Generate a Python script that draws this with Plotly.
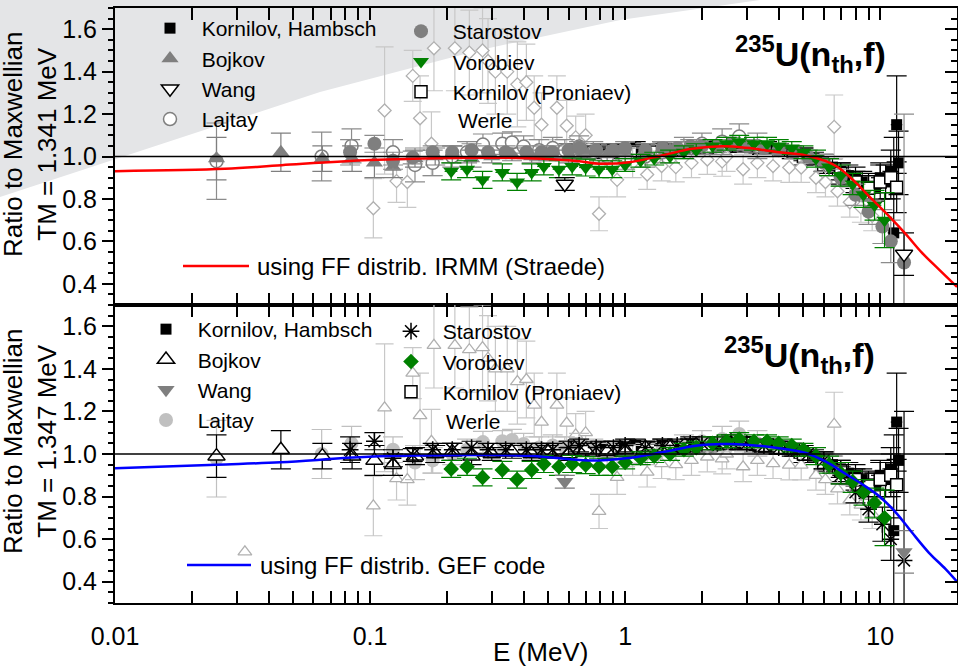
import plotly.graph_objects as go

# ---------------- data ----------------
# Kornilov, Hambsch
kh_E = [0.6, 0.7, 0.8, 0.9, 1.0, 1.1, 1.25, 1.4, 1.6, 1.8, 2.0, 2.25, 2.5, 2.8, 3.2, 3.6, 4.0, 4.5, 5.0, 5.5,
        6.0, 6.5, 7.0, 7.5, 8.0, 8.5, 9.0, 9.5, 10.0, 10.5, 11.0, 11.3, 11.6, 11.8]
kh_R = [1.03, 1.02, 1.03, 1.02, 1.03, 1.04, 1.03, 1.04, 1.03, 1.04, 1.04, 1.05, 1.05, 1.05, 1.04, 1.04, 1.03, 1.02,
        1.01, 0.99, 0.97, 0.95, 0.93, 0.91, 0.90, 0.88, 0.86, 0.85, 0.90, 0.88, 0.93, 0.64, 1.15, 0.97]
kh_dR = [0.03, 0.03, 0.03, 0.03, 0.03, 0.03, 0.03, 0.03, 0.03, 0.03, 0.03, 0.03, 0.03, 0.03, 0.03, 0.03, 0.03, 0.03,
         0.03, 0.03, 0.04, 0.04, 0.04, 0.05, 0.05, 0.05, 0.06, 0.06, 0.07, 0.08, 0.10, 0.45, 0.23, 0.15]
kh_dE = [0.03, 0.03, 0.04, 0.04, 0.05, 0.05, 0.06, 0.07, 0.08, 0.09, 0.10, 0.11, 0.12, 0.14, 0.16, 0.18, 0.20, 0.22,
         0.25, 0.27, 0.30, 0.32, 0.35, 0.40, 0.50, 0.55, 0.60, 0.65, 0.8, 0.8, 0.8, 0.6, 0.6, 0.6]

# Kornilov (Proniaev)
pr_E = [0.55, 0.65, 0.75, 0.9, 1.05, 1.27, 1.5, 1.8, 2.1, 2.5, 3.0, 3.5, 4.0, 5.0, 6.0, 7.0, 8.0, 9.0, 10.0, 11.0, 11.6]
pr_R = [1.02, 1.03, 1.02, 1.03, 1.02, 1.02, 1.03, 1.04, 1.04, 1.05, 1.05, 1.04, 1.03, 1.00, 0.96, 0.92, 0.88, 0.85,
        0.88, 0.90, 0.855]
pr_dR = [0.03, 0.03, 0.03, 0.03, 0.03, 0.03, 0.03, 0.03, 0.03, 0.03, 0.03, 0.03, 0.03, 0.04, 0.04, 0.05, 0.05, 0.06,
         0.08, 0.10, 0.12]

# Bojkov
bo_E = [0.025, 0.0447, 0.065, 0.085, 0.104, 0.123, 0.15, 0.18, 0.21, 0.25, 0.3, 0.36, 0.43, 0.5, 0.6, 0.7, 0.85,
        1.0, 1.2, 1.5, 1.8]
bo_R = [0.99, 1.02, 0.99, 0.99, 0.97, 0.95, 0.99, 1.00, 1.01, 0.99, 1.00, 1.01, 1.00, 1.01, 1.00, 1.02, 1.01, 1.02,
        1.03, 1.03, 1.04]
bo_dR = [0.10, 0.09, 0.06, 0.06, 0.07, 0.05, 0.04, 0.04, 0.04, 0.04, 0.03, 0.03, 0.03, 0.03, 0.03, 0.03, 0.03, 0.03,
         0.03, 0.03, 0.03]

# Wang
wa_E = [0.58, 12.4]
wa_R = [0.87, 0.54]
wa_dR = [0.03, 0.10]

# Lajtay
la_E = [0.025, 0.0646, 0.0846, 0.123, 0.15, 0.176, 0.21, 0.24, 0.277, 0.33, 0.36, 0.40, 0.46, 0.52, 0.58, 0.66,
        0.75, 0.85, 1.0, 1.2, 1.4, 1.7, 2.0, 2.4, 2.8, 3.3]
la_R = [0.978, 1.0, 1.05, 1.02, 0.96, 0.97, 1.0, 1.02, 1.056, 1.06, 1.066, 1.047, 1.03, 1.04, 1.03, 1.047, 1.02,
        1.0, 0.99, 1.0, 1.02, 1.04, 1.06, 1.07, 1.094, 1.05]
la_dR = [0.18, 0.115, 0.08, 0.06, 0.08, 0.06, 0.05, 0.05, 0.05, 0.05, 0.05, 0.05, 0.05, 0.05, 0.05, 0.05, 0.05,
         0.05, 0.05, 0.05, 0.05, 0.05, 0.05, 0.06, 0.06, 0.06]

# Starostov
st_E = [0.0835, 0.104, 0.123, 0.147, 0.176, 0.21, 0.25, 0.29, 0.34, 0.41, 0.47, 0.52, 0.6, 0.66, 0.77, 0.9, 1.0,
        1.2, 1.4, 1.6, 1.8, 2.0, 2.3, 2.6, 3.0, 3.5, 4.0, 4.6, 5.2, 6.0, 7.0, 8.0, 9.0, 10.2, 11.0, 12.4]
st_R = [1.02, 1.06, 0.98, 0.995, 1.02, 1.02, 1.03, 1.02, 1.02, 1.02, 1.02, 1.02, 1.03, 1.04, 1.03, 1.03, 1.04,
        1.03, 1.04, 1.04, 1.05, 1.05, 1.05, 1.06, 1.05, 1.04, 1.03, 1.02, 1.00, 0.97, 0.90, 0.82, 0.74, 0.67,
        0.60, 0.50]
st_dR = [0.06, 0.04, 0.04, 0.03, 0.03, 0.03, 0.03, 0.03, 0.03, 0.03, 0.03, 0.03, 0.03, 0.03, 0.03, 0.03, 0.03,
         0.03, 0.03, 0.03, 0.03, 0.03, 0.03, 0.03, 0.03, 0.03, 0.03, 0.03, 0.03, 0.04, 0.04, 0.05, 0.06, 0.08,
         0.10, 0.70]

# Vorobiev
vo_E = [0.208, 0.24, 0.276, 0.33, 0.377, 0.43, 0.48, 0.55, 0.62, 0.70, 0.79, 0.89, 1.0, 1.15, 1.3, 1.5, 1.7,
        1.9, 2.2, 2.5, 2.8, 3.2, 3.6, 4.0, 4.5, 5.0, 5.6, 6.3, 7.0, 7.8, 8.6, 9.5, 10.4]
vo_R = [0.93, 0.94, 0.89, 0.925, 0.88, 0.925, 0.953, 0.94, 0.953, 0.948, 0.94, 0.94, 0.96, 0.98, 0.99, 1.00,
        1.02, 1.03, 1.05, 1.06, 1.07, 1.06, 1.06, 1.05, 1.04, 1.02, 0.99, 0.95, 0.91, 0.87, 0.82, 0.77, 0.70]
vo_dR = [0.04, 0.04, 0.04, 0.04, 0.04, 0.04, 0.04, 0.04, 0.04, 0.04, 0.04, 0.04, 0.03, 0.03, 0.03, 0.03, 0.03,
         0.03, 0.03, 0.03, 0.03, 0.03, 0.03, 0.03, 0.03, 0.03, 0.04, 0.04, 0.05, 0.05, 0.06, 0.07, 0.13]
vo_dE = [0.012, 0.014, 0.016, 0.02, 0.022, 0.025, 0.028, 0.03, 0.035, 0.04, 0.045, 0.05, 0.06, 0.07, 0.08, 0.09,
         0.1, 0.11, 0.13, 0.15, 0.17, 0.19, 0.21, 0.24, 0.27, 0.3, 0.34, 0.38, 0.45, 0.5, 0.55, 0.6, 0.65]

# Werle
we_E = [0.103, 0.114, 0.127, 0.14, 0.147, 0.157, 0.174, 0.178, 0.215, 0.245, 0.276, 0.29, 0.31, 0.345, 0.378,
        0.41, 0.44, 0.47, 0.54, 0.59, 0.64, 0.70, 0.79, 0.93, 1.07, 1.22, 1.39, 1.58, 1.82, 2.1, 2.4, 2.5, 2.9,
        3.3, 3.8, 4.4, 4.9, 5.6, 6.1, 6.6, 6.8, 7.6, 8.4, 9.3]
we_R = [0.756, 1.217, 0.884, 0.88, 1.38, 1.18, 1.06, 1.51, 1.51, 1.49, 1.50, 1.45, 1.40, 1.40, 1.34, 1.35, 1.23,
        1.15, 1.23, 1.145, 1.09, 1.10, 0.73, 0.89, 0.97, 0.915, 0.955, 0.95, 0.97, 0.986, 0.977, 1.0, 0.94, 0.97,
        0.955, 0.948, 0.948, 0.90, 0.88, 1.14, 0.836, 0.784, 0.76, 0.72]
we_dR = [0.14, 0.30, 0.10, 0.12, 0.12, 0.20, 0.15, 0.20, 0.20, 0.20, 0.20, 0.20, 0.20, 0.20, 0.20, 0.18, 0.15,
         0.15, 0.15, 0.12, 0.10, 0.10, 0.08, 0.08, 0.07, 0.07, 0.07, 0.07, 0.07, 0.07, 0.07, 0.07, 0.07, 0.07,
         0.07, 0.07, 0.07, 0.07, 0.07, 0.15, 0.07, 0.07, 0.07, 0.07]
we_extra_E = [0.0323]
we_extra_R = [0.54]

# Model curves
irmm_E = [0.01, 0.027, 0.045, 0.1, 0.269, 0.421, 0.661, 0.791, 1.037, 1.396, 1.83, 2.40, 2.98, 4.01, 5.11, 6.12,
          6.88, 8.02, 9.26, 10.8, 12.6, 14.5, 16.9, 20.0]
irmm_R = [0.931, 0.942, 0.959, 0.983, 0.994, 0.992, 0.978, 0.966, 0.973, 1.005, 1.036, 1.048, 1.041, 1.02, 1.005,
          0.978, 0.947, 0.877, 0.80, 0.72, 0.634, 0.549, 0.47, 0.385]
gef_E = [0.01, 0.0249, 0.0446, 0.0987, 0.269, 0.421, 0.723, 1.009, 1.396, 1.897, 2.44, 2.98, 4.01, 5.11, 6.12,
         7.33, 8.47, 9.86, 11.5, 13.3, 15.5, 18.05, 20.0]
gef_R = [0.933, 0.95, 0.961, 0.987, 0.995, 0.992, 0.969, 0.98, 1.008, 1.039, 1.047, 1.044, 1.027, 1.005, 0.964,
         0.906, 0.859, 0.804, 0.726, 0.632, 0.537, 0.459, 0.40]

x_tickvals = [0.01, 0.1, 1, 10]
x_ticktext = ["0.01", "0.1", "1", "10"]
x_minor = [m * d for d in (0.01, 0.1, 1, 10) for m in range(2, 10) if m * d <= 20]

# ---------------- figure ----------------
FONT = "Liberation Sans, Arial, sans-serif"
W, H = 958, 669
L, R, T, B = 115, 1, 8, 66
PW, PH = W - L - R, H - T - B
SPLIT = 305  # px of the panel boundary


def px_x(px):
    return (px - L) / PW


def px_y(py):
    return (H - B - py) / PH


ydom_split = px_y(SPLIT)

fig = go.Figure()


def add_series(E, Rv, dR, name, xa, ya, marker, errc, legend, rank, dE=None, showlegend=True, capw=10):
    ex = dict(type="data", array=dE, color=errc, thickness=1.2, width=0) if dE else dict(visible=False)
    fig.add_trace(go.Scatter(
        x=E, y=Rv, mode="markers", name=name, xaxis=xa, yaxis=ya, marker=marker,
        error_y=dict(type="data", array=dR, color=errc, thickness=1.2, width=capw),
        error_x=ex, legend=legend, legendrank=rank, showlegend=showlegend, cliponaxis=True))


NB = "\u00a0\u00a0"
for panel in ("top", "bot"):
    xa, ya = ("x", "y") if panel == "top" else ("x2", "y2")
    l1, l2 = ("legend", "legend2") if panel == "top" else ("legend3", "legend4")
    # Kornilov, Hambsch
    add_series(kh_E, kh_R, kh_dR, NB + "Kornilov, Hambsch", xa, ya,
               dict(symbol="square", size=11, color="black"), "black", l1, 1, dE=kh_dE)
    # Kornilov (Proniaev)
    add_series(pr_E, pr_R, pr_dR, NB + "Kornilov (Proniaev)", xa, ya,
               dict(symbol="square", size=12, color="white", line=dict(color="black", width=1.5)),
               "black", l2, 3)
    # Werle
    if panel == "top":
        wm = dict(symbol="diamond", size=10, color="white", line=dict(color="#b0b0b0", width=1.3))
    else:
        wm = dict(symbol="triangle-up", size=12, color="white", line=dict(color="#b0b0b0", width=1.3))
    add_series(we_E, we_R, we_dR, "Werle", xa, ya, wm, "#c8c8c8", l2, 4, showlegend=False, capw=9)
    if panel == "bot":
        add_series(we_extra_E, we_extra_R, [0], "Werle", xa, ya, wm, "#c8c8c8", l2, 4,
                   showlegend=False, capw=0)
    # Lajtay
    if panel == "top":
        lm = dict(symbol="circle", size=13, color="white", line=dict(color="#7f7f7f", width=1.5))
        lc = "#8c8c8c"
    else:
        lm = dict(symbol="circle", size=14, color="#c0c0c0")
        lc = "#c0c0c0"
    add_series(la_E, la_R, la_dR, NB + "Lajtay", xa, ya, lm, lc, l1, 4)
    # Bojkov
    if panel == "top":
        bm = dict(symbol="triangle-up", size=15, color="#7f7f7f")
        bc = "#7f7f7f"
    else:
        bm = dict(symbol="triangle-up", size=15, color="white", line=dict(color="black", width=1.5))
        bc = "black"
    add_series(bo_E, bo_R, bo_dR, NB + "Bojkov", xa, ya, bm, bc, l1, 2)
    # Starostov
    if panel == "top":
        sm = dict(symbol="circle", size=14, color="#7f7f7f")
        sc = "#8c8c8c"
    else:
        sm = dict(symbol="asterisk-open", size=14, color="black", line=dict(color="black", width=1.5))
        sc = "black"
    add_series(st_E, st_R, st_dR, NB + "Starostov", xa, ya, sm, sc, l2, 1)
    # Vorobiev
    if panel == "top":
        vm = dict(symbol="triangle-down", size=14, color="#008000")
    else:
        vm = dict(symbol="diamond", size=12, color="#008000")
    add_series(vo_E, vo_R, vo_dR, NB + "Vorobiev", xa, ya, vm, "#008000", l2, 2, dE=vo_dE)
    # Wang
    if panel == "top":
        wgm = dict(symbol="triangle-down", size=15, color="white", line=dict(color="black", width=1.5))
        wgc = "black"
    else:
        wgm = dict(symbol="triangle-down", size=15, color="#7f7f7f")
        wgc = "#7f7f7f"
    add_series(wa_E, wa_R, wa_dR, NB + "Wang", xa, ya, wgm, wgc, l1, 3)

# model curves
fig.add_trace(go.Scatter(x=irmm_E, y=irmm_R, mode="lines", line=dict(color="#ff0000", width=2.5, shape="spline"),
                         xaxis="x", yaxis="y", showlegend=False, name="IRMM"))
fig.add_trace(go.Scatter(x=gef_E, y=gef_R, mode="lines", line=dict(color="#0000ff", width=2.5, shape="spline"),
                         xaxis="x2", yaxis="y2", showlegend=False, name="GEF"))
# empty traces so the right-hand tick axes exist
fig.add_trace(go.Scatter(x=[], y=[], xaxis="x", yaxis="y3", showlegend=False))
fig.add_trace(go.Scatter(x=[], y=[], xaxis="x2", yaxis="y4", showlegend=False))

xcommon = dict(type="log", range=[-2, 1.30103], autorange=False, showgrid=False, zeroline=False,
               showline=True, linecolor="black", linewidth=2, mirror="allticks",
               ticks="inside", ticklen=12, tickwidth=1.5, tickcolor="black",
               tickmode="array", tickvals=x_tickvals, ticktext=x_ticktext,
               minor=dict(tickmode="array", tickvals=x_minor, ticks="inside", ticklen=7, tickwidth=1.5,
                          tickcolor="black", showgrid=False),
               tickfont=dict(family=FONT, size=25, color="black"))
ycommon = dict(range=[0.3, 1.7], autorange=False, showgrid=False, zeroline=False, showline=True,
               linecolor="black", linewidth=2, tickmode="linear", tick0=0.4, dtick=0.2, tickformat=".1f",
               ticks="outside", ticklen=11, tickwidth=1.5, tickcolor="black",
               minor=dict(dtick=0.05, tick0=0.3, ticks="outside", ticklen=5, tickwidth=1.5, tickcolor="black",
                          showgrid=False),
               tickfont=dict(family=FONT, size=25, color="black"))
yright = dict(range=[0.3, 1.7], autorange=False, showgrid=False, zeroline=False, showline=True,
              linecolor="black", linewidth=2, side="right", tickmode="linear", tick0=0.4, dtick=0.2,
              ticks="inside", ticklen=12, tickwidth=1.5, tickcolor="black", showticklabels=False,
              minor=dict(dtick=0.05, tick0=0.3, ticks="inside", ticklen=6, tickwidth=1.5, tickcolor="black",
                         showgrid=False))

lg = dict(font=dict(family=FONT, size=21, color="black"), bgcolor="rgba(0,0,0,0)", borderwidth=0,
          xanchor="left", yanchor="top", tracegroupgap=0, itemsizing="trace", traceorder="normal")

fig.update_layout(
    width=W, height=H, margin=dict(l=L, r=R, t=T, b=B, autoexpand=False),
    paper_bgcolor="white", plot_bgcolor="rgba(0,0,0,0)",
    font=dict(family=FONT, color="black"),
    xaxis=dict(**xcommon, anchor="y", showticklabels=False),
    xaxis2=dict(**xcommon, anchor="y2", matches="x", showticklabels=True, ticklabelstandoff=10),
    yaxis=dict(**ycommon, domain=[ydom_split, 1], anchor="x"),
    yaxis2=dict(**ycommon, domain=[0, ydom_split], anchor="x2"),
    yaxis3=dict(**yright, overlaying="y", anchor="x"),
    yaxis4=dict(**yright, overlaying="y2", anchor="x2"),
    legend=dict(**lg, x=px_x(150), y=px_y(8)),
    legend2=dict(**lg, x=px_x(401), y=px_y(11)),
    legend3=dict(**lg, x=px_x(146), y=px_y(309)),
    legend4=dict(**lg, x=px_x(391), y=px_y(311)),
)

shapes = [
    # grey wedge in the upper-left corner
    dict(type="path", xref="paper", yref="paper", layer="below", line=dict(width=0), fillcolor="#e4e5e7",
         path="M {:.4f},{:.4f} L {:.4f},{:.4f} L {:.4f},{:.4f} L {:.4f},{:.4f} L {:.4f},{:.4f} L {:.4f},{:.4f} Z".format(
             px_x(0), px_y(0), px_x(760), px_y(0), px_x(620), px_y(20), px_x(480), px_y(50),
             px_x(320), px_y(92), px_x(0), px_y(197))),
    dict(type="line", xref="x domain", yref="y", x0=0, x1=1, y0=1, y1=1, line=dict(color="black", width=1.5)),
    dict(type="line", xref="x2 domain", yref="y2", x0=0, x1=1, y0=1, y1=1, line=dict(color="black", width=1.5)),
    dict(type="line", xref="paper", yref="paper", x0=px_x(183), x1=px_x(249), y0=px_y(266), y1=px_y(266),
         line=dict(color="#ff0000", width=2.5)),
    dict(type="line", xref="paper", yref="paper", x0=px_x(187), x1=px_x(251), y0=px_y(565), y1=px_y(565),
         line=dict(color="#0000ff", width=2.5)),
]
fig.update_layout(shapes=shapes)

ann = []
txt = dict(family=FONT, size=21, color="black")
ann.append(dict(text="Werle", x=px_x(456), y=px_y(120), xref="paper", yref="paper", xanchor="left",
                yanchor="middle", showarrow=False, font=txt))
ann.append(dict(text="Werle", x=px_x(444), y=px_y(421), xref="paper", yref="paper", xanchor="left",
                yanchor="middle", showarrow=False, font=txt))
ann.append(dict(text="using FF distrib. IRMM (Straede)", x=px_x(255), y=px_y(266), xref="paper", yref="paper",
                xanchor="left", yanchor="middle", showarrow=False, font=dict(family=FONT, size=24, color="black")))
ann.append(dict(text="using FF distrib. GEF code", x=px_x(258), y=px_y(565), xref="paper", yref="paper",
                xanchor="left", yanchor="middle", showarrow=False, font=dict(family=FONT, size=24, color="black")))
big = dict(family=FONT, size=34, color="black")
ann.append(dict(text="<b><sup>235</sup>U(n<sub>th</sub>,f)</b>", x=px_x(810), y=px_y(54), xref="paper",
                yref="paper", xanchor="center", yanchor="middle", showarrow=False, font=big))
ann.append(dict(text="<b><sup>235</sup>U(n<sub>th</sub>,f)</b>", x=px_x(799), y=px_y(355), xref="paper",
                yref="paper", xanchor="center", yanchor="middle", showarrow=False, font=big))
ytf = dict(family=FONT, size=26, color="black")
ann.append(dict(text="Ratio to Maxwellian<br>TM = 1.341 MeV", x=px_x(30), y=px_y(145), xref="paper",
                yref="paper", xanchor="center", yanchor="middle", textangle=-90, showarrow=False, font=ytf))
ann.append(dict(text="Ratio to Maxwellian<br>TM = 1.347 MeV", x=px_x(30), y=px_y(442), xref="paper",
                yref="paper", xanchor="center", yanchor="middle", textangle=-90, showarrow=False, font=ytf))
ann.append(dict(text="E (MeV)", x=px_x(540), y=px_y(652), xref="paper", yref="paper", xanchor="center",
                yanchor="middle", showarrow=False, font=dict(family=FONT, size=26, color="black")))
fig.update_layout(annotations=ann)

fig.write_html("out.html")
